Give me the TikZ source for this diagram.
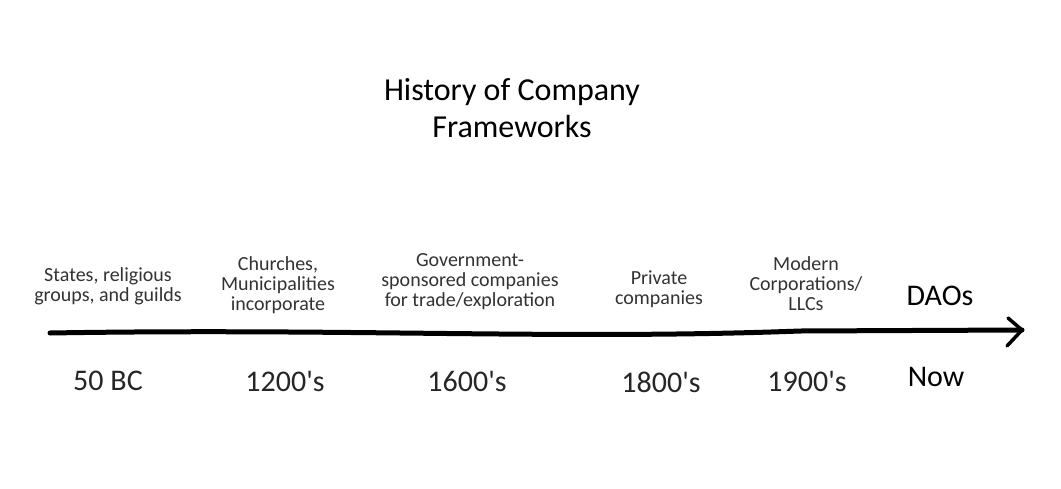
\documentclass[tikz,border=0pt]{standalone}
\usepackage{fontspec}
\setmainfont{Carlito}[Ligatures=TeXOff]
\definecolor{labelgray}{HTML}{333333}
\begin{document}
\begin{tikzpicture}[x=1pt,y=-1pt,
  event/.style={align=center, text=labelgray, font=\fontsize{20}{20}\selectfont, inner sep=0pt},
  era/.style={text=black!85, font=\fontsize{30}{32}\selectfont, inner sep=0pt},
  titletext/.style={align=center, font=\fontsize{32}{37}\selectfont, inner sep=0pt},
  axisline/.style={line width=5pt, line cap=round},
  tiphead/.style={line width=3.5pt, line cap=round, line join=round}]
\useasboundingbox[fill=white] (0,0) rectangle (1061,488);
\node[titletext] (title) at (512,108) {History of Company\\Frameworks};
\coordinate (start) at (50,333);
\coordinate (end) at (1022,330);
\draw[axisline] (start) .. controls (350,328) and (560,340) .. (800,331) -- (end);
\draw[tiphead] ([shift={(-14,-12)}]end) -- (end) -- ([shift={(-15,16)}]end);
\node[event] (e1) at (108,286) {States, religious\\groups, and guilds};
\node[event] (e2) at (278,285) {Churches,\\Municipalities\\incorporate};
\node[event] (e3) at (470,282) {Government-\\sponsored companies\\for trade/exploration};
\node[event] (e4) at (659,289) {Private\\companies};
\node[event] (e5) at (806,284) {Modern\\Corporations/\\LLCs};
\node[era, text=black] (e6) at (940,296) {DAOs};
\node[era] (d1) at (108,381) {50 BC};
\node[era] (d2) at (285,381) {1200's};
\node[era] (d3) at (467,381) {1600's};
\node[era] (d4) at (661,382) {1800's};
\node[era] (d5) at (807,381) {1900's};
\node[era, text=black] (d6) at (936,377) {Now};
\end{tikzpicture}
\end{document}
